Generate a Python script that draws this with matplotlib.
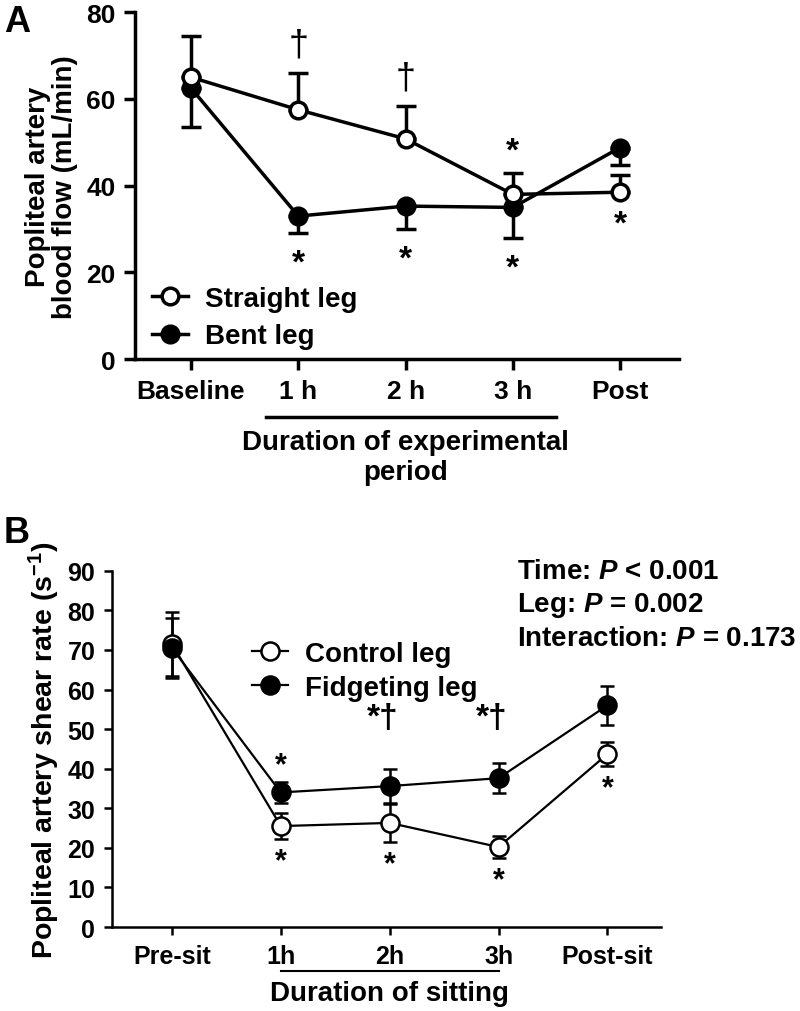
import numpy as np
import matplotlib.pyplot as plt

plt.rcParams['font.family'] = ['Liberation Sans', 'DejaVu Sans']
plt.rcParams['font.weight'] = 'bold'
plt.rcParams['axes.labelweight'] = 'bold'
plt.rcParams['mathtext.fontset'] = 'custom'
plt.rcParams['mathtext.rm'] = 'Liberation Sans:bold'
plt.rcParams['mathtext.it'] = 'Liberation Sans:bold:italic'
plt.rcParams['mathtext.bf'] = 'Liberation Sans:bold'

# Panel A: blood flow
a_labels = ['Baseline', '1 h', '2 h', '3 h', 'Post']
straight = [65, 57.5, 50.8, 38, 38.5]
straight_up = [9.5, 8.5, 7.5, 5, 4]
bent = [62.5, 33, 35.3, 35, 48.8]
bent_dn = [9, 4, 5.3, 7, 4]

# Panel B: shear rate
b_labels = ['Pre-sit', '1h', '2h', '3h', 'Post-sit']
control = [71.5, 25.5, 26.3, 20.2, 43.7]
control_err = [8.0, 3.2, 4.8, 2.7, 3.0]
fidget = [70.5, 34, 35.6, 37.6, 56]
fidget_err = [7.5, 2.7, 4.2, 3.8, 5.0]
stats = ['Time: $P$ < 0.001', 'Leg: $P$ = 0.002', 'Interaction: $P$ = 0.173']

fig = plt.figure(figsize=(8, 10.12), dpi=100)

# ---------------- A ----------------
axA = fig.add_axes([0.169, 0.644, 0.68, 0.343])
x = np.arange(len(a_labels))
axA.errorbar(x, straight, yerr=[np.zeros(5), straight_up], fmt='none',
             ecolor='black', elinewidth=2.5, capsize=7, capthick=2.5, zorder=2)
axA.errorbar(x, bent, yerr=[bent_dn, np.zeros(5)], fmt='none',
             ecolor='black', elinewidth=2.5, capsize=7, capthick=2.5, zorder=2)
axA.plot(x, bent, '-o', color='black', mfc='black', mec='black', lw=2.5,
         ms=12, mew=2.5, label='Bent leg', zorder=3)
axA.plot(x, straight, '-o', color='black', mfc='white', mec='black', lw=2.5,
         ms=12, mew=2.5, label='Straight leg', zorder=4)

# significance marks
for i in [1, 2]:
    axA.text(x[i], straight[i] + straight_up[i] + 2.5, '\u2020', ha='center',
             va='bottom', fontsize=26, fontweight='normal')
axA.text(x[3], straight[3] + straight_up[3] + 1.5, '*', ha='center',
         va='bottom', fontsize=24)
axA.text(x[4], straight[4] - 11, '*', ha='center', va='bottom', fontsize=24)
for i in [1, 2, 3]:
    axA.text(x[i], bent[i] - bent_dn[i] - 10.5, '*', ha='center',
             va='bottom', fontsize=24)

axA.set_xlim(-0.52, 4.55)
axA.set_ylim(0, 80)
axA.set_yticks([0, 20, 40, 60, 80])
axA.set_xticks(x)
axA.set_xticklabels(a_labels)
for s in ['top', 'right']:
    axA.spines[s].set_visible(False)
for s in ['left', 'bottom']:
    axA.spines[s].set_linewidth(2.5)
axA.tick_params(width=2.5, length=8, labelsize=19, pad=6)
axA.set_ylabel('Popliteal artery\nblood flow (mL/min)', fontsize=20,
               labelpad=6, linespacing=1.05)
h, l = axA.get_legend_handles_labels()
axA.legend(h[::-1], l[::-1], loc='upper left', bbox_to_anchor=(0.0, 0.26),
           frameon=False, fontsize=20, handlelength=1.3, handletextpad=0.6,
           labelspacing=0.42, borderaxespad=0.2)
axA.plot([0.7, 3.4], [-0.165, -0.165], color='black', lw=2.5,
         transform=axA.get_xaxis_transform(), clip_on=False)
axA.text(2.0, -0.2, 'Duration of experimental\nperiod', ha='center',
         va='top', fontsize=20, transform=axA.get_xaxis_transform(),
         linespacing=1.2)
fig.text(0.005, 0.995, 'A', fontsize=26, va='top', ha='left')

# ---------------- B ----------------
axB = fig.add_axes([0.14, 0.083, 0.686, 0.352])
xb = np.arange(len(b_labels))
axB.errorbar(xb, fidget, yerr=fidget_err, fmt='none', ecolor='black',
             elinewidth=1.8, capsize=5, capthick=1.8, zorder=2)
axB.errorbar(xb, control, yerr=control_err, fmt='none', ecolor='black',
             elinewidth=1.8, capsize=5, capthick=1.8, zorder=2)
axB.plot(xb, control, '-o', color='black', mfc='white', mec='black', lw=1.6,
         ms=13, mew=1.8, label='Control leg', zorder=3)
axB.plot(xb, fidget, '-o', color='black', mfc='black', mec='black', lw=1.6,
         ms=13, mew=1.8, label='Fidgeting leg', zorder=4)

axB.text(xb[1], fidget[1] + fidget_err[1] + 0.5, '*', ha='center',
         va='bottom', fontsize=22)
for i in [2, 3]:
    axB.text(xb[i] - 0.06, 53, '*\u2020', ha='center', va='center',
             fontsize=24)
for i in [1, 2, 3, 4]:
    axB.text(xb[i], control[i] - control_err[i] - 9.5, '*', ha='center',
             va='bottom', fontsize=22)

axB.set_xlim(-0.55, 4.49)
axB.set_ylim(0, 90)
axB.set_yticks(np.arange(0, 91, 10))
axB.set_xticks(xb)
axB.set_xticklabels(b_labels)
for s in ['top', 'right']:
    axB.spines[s].set_visible(False)
for s in ['left', 'bottom']:
    axB.spines[s].set_linewidth(1.8)
axB.tick_params(width=1.8, length=6, labelsize=18, pad=6)
axB.set_ylabel('Popliteal artery shear rate (s$^{-1}$)', fontsize=20.5,
               labelpad=4)
axB.legend(loc='upper left', bbox_to_anchor=(0.225, 0.85), frameon=False,
           fontsize=20, handlelength=1.3, handletextpad=0.6,
           labelspacing=0.3, borderaxespad=0.2)
for k, s in enumerate(stats):
    axB.text(0.738, 1.0 - k * 0.095, s, transform=axB.transAxes,
             fontsize=20, va='center', ha='left')
axB.plot([1, 3], [-0.124, -0.124], color='black', lw=1.5,
         transform=axB.get_xaxis_transform(), clip_on=False)
axB.text(2.0, -0.185, 'Duration of sitting', ha='center', va='center',
         fontsize=20, transform=axB.get_xaxis_transform())
fig.text(0.005, 0.49, 'B', fontsize=26, va='top', ha='left')

fig.savefig('out.png', dpi=100)
